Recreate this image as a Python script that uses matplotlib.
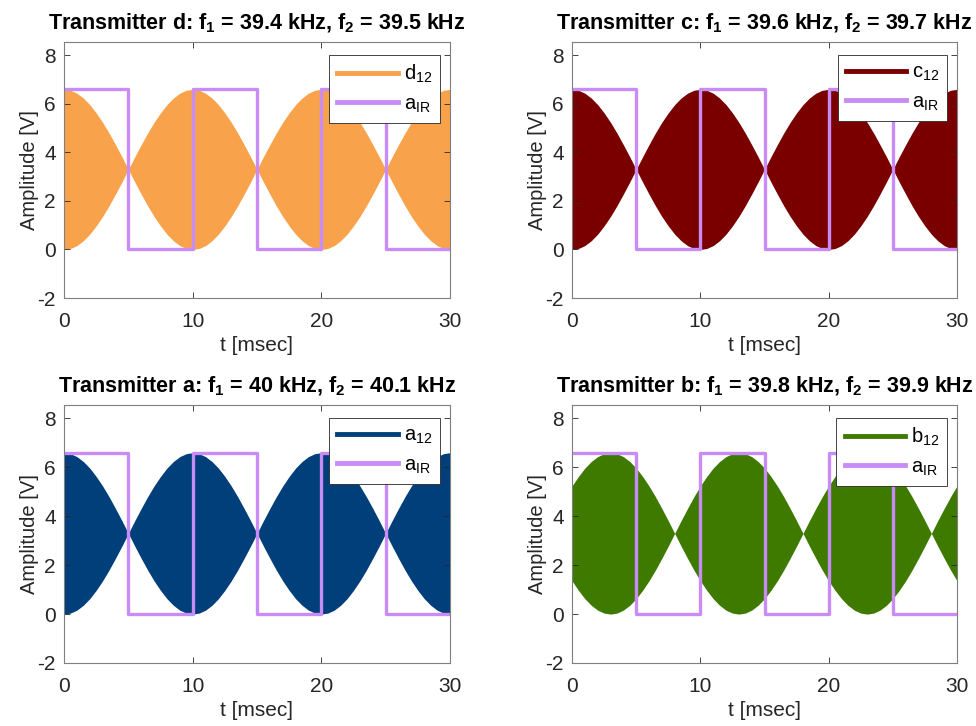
import matplotlib
matplotlib.use("Agg")
import matplotlib.pyplot as plt
from matplotlib.lines import Line2D

plt.rcParams['font.family'] = ['Liberation Sans', 'DejaVu Sans']
plt.rcParams['mathtext.default'] = 'regular'
plt.rcParams['axes.unicode_minus'] = False

# envelope sample times [msec]
t_env = [0.0, 0.5, 1.0, 1.5, 2.0, 2.5, 3.0, 3.5, 4.0, 4.5, 5.0, 5.5, 6.0, 6.5, 7.0, 7.5,
         8.0, 8.5, 9.0, 9.5, 10.0, 10.5, 11.0, 11.5, 12.0, 12.5, 13.0, 13.5, 14.0, 14.5,
         15.0, 15.5, 16.0, 16.5, 17.0, 17.5, 18.0, 18.5, 19.0, 19.5, 20.0, 20.5, 21.0,
         21.5, 22.0, 22.5, 23.0, 23.5, 24.0, 24.5, 25.0, 25.5, 26.0, 26.5, 27.0, 27.5,
         28.0, 28.5, 29.0, 29.5, 30.0]

# centre of the beat signal [V]
center = 3.3

# envelope half-widths [V]
amp_d = [3.30, 3.26, 3.14, 2.94, 2.67, 2.33, 1.94, 1.50, 1.02, 0.52, 0.00, 0.52, 1.02, 1.50,
         1.94, 2.33, 2.67, 2.94, 3.14, 3.26, 3.30, 3.26, 3.14, 2.94, 2.67, 2.33, 1.94, 1.50,
         1.02, 0.52, 0.00, 0.52, 1.02, 1.50, 1.94, 2.33, 2.67, 2.94, 3.14, 3.26, 3.30, 3.26,
         3.14, 2.94, 2.67, 2.33, 1.94, 1.50, 1.02, 0.52, 0.00, 0.52, 1.02, 1.50, 1.94, 2.33,
         2.67, 2.94, 3.14, 3.26, 3.30]
amp_c = [3.30, 3.26, 3.14, 2.94, 2.67, 2.33, 1.94, 1.50, 1.02, 0.52, 0.00, 0.52, 1.02, 1.50,
         1.94, 2.33, 2.67, 2.94, 3.14, 3.26, 3.30, 3.26, 3.14, 2.94, 2.67, 2.33, 1.94, 1.50,
         1.02, 0.52, 0.00, 0.52, 1.02, 1.50, 1.94, 2.33, 2.67, 2.94, 3.14, 3.26, 3.30, 3.26,
         3.14, 2.94, 2.67, 2.33, 1.94, 1.50, 1.02, 0.52, 0.00, 0.52, 1.02, 1.50, 1.94, 2.33,
         2.67, 2.94, 3.14, 3.26, 3.30]
amp_a = [3.30, 3.26, 3.14, 2.94, 2.67, 2.33, 1.94, 1.50, 1.02, 0.52, 0.00, 0.52, 1.02, 1.50,
         1.94, 2.33, 2.67, 2.94, 3.14, 3.26, 3.30, 3.26, 3.14, 2.94, 2.67, 2.33, 1.94, 1.50,
         1.02, 0.52, 0.00, 0.52, 1.02, 1.50, 1.94, 2.33, 2.67, 2.94, 3.14, 3.26, 3.30, 3.26,
         3.14, 2.94, 2.67, 2.33, 1.94, 1.50, 1.02, 0.52, 0.00, 0.52, 1.02, 1.50, 1.94, 2.33,
         2.67, 2.94, 3.14, 3.26, 3.30]
amp_b = [1.94, 2.33, 2.67, 2.94, 3.14, 3.26, 3.30, 3.26, 3.14, 2.94, 2.67, 2.33, 1.94, 1.50,
         1.02, 0.52, 0.00, 0.52, 1.02, 1.50, 1.94, 2.33, 2.67, 2.94, 3.14, 3.26, 3.30, 3.26,
         3.14, 2.94, 2.67, 2.33, 1.94, 1.50, 1.02, 0.52, 0.00, 0.52, 1.02, 1.50, 1.94, 2.33,
         2.67, 2.94, 3.14, 3.26, 3.30, 3.26, 3.14, 2.94, 2.67, 2.33, 1.94, 1.50, 1.02, 0.52,
         0.00, 0.52, 1.02, 1.50, 1.94]

# IR square wave a_IR
t_ir = [0, 5, 5, 10, 10, 15, 15, 20, 20, 25, 25, 30]
v_ir = [6.6, 6.6, 0, 0, 6.6, 6.6, 0, 0, 6.6, 6.6, 0, 0]

titles = ["Transmitter d: f$_1$ = 39.4 kHz, f$_2$ = 39.5 kHz",
          "Transmitter c: f$_1$ = 39.6 kHz, f$_2$ = 39.7 kHz",
          "Transmitter a: f$_1$ = 40 kHz, f$_2$ = 40.1 kHz",
          "Transmitter b: f$_1$ = 39.8 kHz, f$_2$ = 39.9 kHz"]
labels = ["d$_{12}$", "c$_{12}$", "a$_{12}$", "b$_{12}$"]
amps = [amp_d, amp_c, amp_a, amp_b]
colors = ["#F9A24C", "#7A0000", "#003F7A", "#3F7A00"]
ir_color = "#C98CF7"
ir_label = "a$_{IR}$"

x_ticks = [0, 10, 20, 30]
y_ticks = [-2, 0, 2, 4, 6, 8]

fig = plt.figure(figsize=(9.76, 7.26), dpi=100)
W, H = 976, 726
boxes = [(64, 42, 450, 298), (572, 42, 957, 298),
         (64, 405, 450, 663), (572, 405, 957, 663)]

edge = "#262626"
for i in range(4):
    x0, y0, x1, y1 = boxes[i]
    ax = fig.add_axes([x0 / W, 1 - y1 / H, (x1 - x0) / W, (y1 - y0) / H])
    upper = [center + a for a in amps[i]]
    lower = [center - a for a in amps[i]]
    ax.fill_between(t_env, lower, upper, color=colors[i], linewidth=0)
    ax.plot(t_ir, v_ir, color=ir_color, linewidth=2.4)
    ax.set_xlim(0, 30)
    ax.set_ylim(-2, 8.55)
    ax.set_xticks(x_ticks)
    ax.set_yticks(y_ticks)
    ax.tick_params(direction='in', top=True, right=True, labelsize=15,
                   colors=edge, length=4, width=0.6)
    ax.tick_params(axis='x', pad=10)
    ax.tick_params(axis='y', pad=6)
    for sp in ax.spines.values():
        sp.set_color("#7f7f7f")
        sp.set_linewidth(0.8)
    ax.set_xlabel("t [msec]", fontsize=15, color=edge, labelpad=4)
    ax.set_ylabel("Amplitude [V]", fontsize=14.5, color=edge, labelpad=-1)
    ax.set_title(titles[i], fontsize=15.5, fontweight='bold', pad=9)
    handles = [Line2D([0], [0], color=colors[i], linewidth=3.5),
               Line2D([0], [0], color=ir_color, linewidth=3.5)]
    leg = ax.legend(handles, [labels[i], ir_label], loc='upper right',
                    bbox_to_anchor=(0.975, 0.95), fontsize=14.5, fancybox=False,
                    framealpha=1, edgecolor="#262626", handlelength=3.0,
                    borderpad=0.4, labelspacing=0.45, handletextpad=0.3,
                    borderaxespad=0.0)
    leg.get_frame().set_linewidth(0.6)

fig.savefig("out.png", dpi=100)
